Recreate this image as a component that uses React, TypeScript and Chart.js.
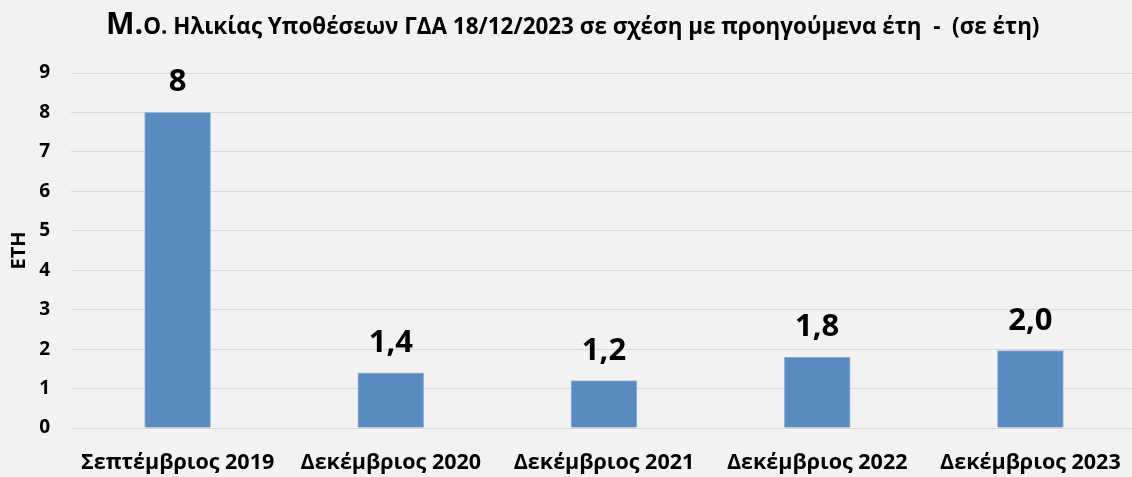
import React, { useEffect, useRef } from "react";
import { Chart, registerables } from "chart.js";

Chart.register(...registerables);

const categories = [
  "Σεπτέμβριος 2019",
  "Δεκέμβριος 2020",
  "Δεκέμβριος 2021",
  "Δεκέμβριος 2022",
  "Δεκέμβριος 2023",
];
const values = [8, 1.4, 1.2, 1.8, 1.96];
const valueLabels = ["8", "1,4", "1,2", "1,8", "2,0"];
const yMin = 0;
const yMax = 9;
const yStep = 1;
const titleLead = "Μ.";
const titleRest = "Ο. Ηλικίας Υποθέσεων ΓΔΑ 18/12/2023 σε σχέση με προηγούμενα έτη  -  (σε έτη)";
const yAxisTitle = "ΕΤΗ";

const FONT = "'Open Sans', 'Noto Sans', sans-serif";

const titlePlugin = {
  id: "mixedTitle",
  afterDraw(chart: any) {
    const ctx = chart.ctx as CanvasRenderingContext2D;
    ctx.save();
    const baseLead = 27;
    const baseRest = 20;
    ctx.font = `bold ${baseLead}px ${FONT}`;
    const wl = ctx.measureText(titleLead).width;
    ctx.font = `bold ${baseRest}px ${FONT}`;
    const wr = ctx.measureText(titleRest).width;
    const target = 934;
    const s = target / (wl + wr);
    const lead = baseLead * s;
    const rest = baseRest * s;
    const startX = chart.width / 2 + 4.5 - target / 2;
    ctx.fillStyle = "#000";
    ctx.textBaseline = "alphabetic";
    ctx.textAlign = "left";
    ctx.font = `bold ${lead}px ${FONT}`;
    ctx.fillText(titleLead, startX, 34);
    ctx.font = `bold ${rest}px ${FONT}`;
    ctx.fillText(titleRest, startX + wl * s, 34);
    ctx.restore();
  },
};

const valueLabelPlugin = {
  id: "valueLabels",
  afterDatasetsDraw(chart: any) {
    const ctx = chart.ctx as CanvasRenderingContext2D;
    const meta = chart.getDatasetMeta(0);
    ctx.save();
    ctx.font = `bold 31px ${FONT}`;
    ctx.fillStyle = "#000";
    ctx.textAlign = "center";
    ctx.textBaseline = "alphabetic";
    meta.data.forEach((bar: any, i: number) => {
      ctx.fillText(valueLabels[i], bar.x, bar.y - 21);
    });
    ctx.restore();
  },
};

export default function App() {
  const ref = useRef<HTMLCanvasElement | null>(null);

  useEffect(() => {
    if (!ref.current) return;
    const chart = new Chart(ref.current, {
      type: "bar",
      data: {
        labels: categories,
        datasets: [
          {
            data: values,
            backgroundColor: "#5a8bc0",
            borderColor: "#9dbadc",
            borderWidth: 1,
            barThickness: 66,
          },
        ],
      },
      options: {
        responsive: false,
        animation: false,
        devicePixelRatio: 1,
        layout: { padding: { top: 73, left: 0, right: 0, bottom: 0 } },
        plugins: {
          legend: { display: false },
          title: { display: false },
          tooltip: { enabled: false },
        },
        scales: {
          x: {
            grid: { display: false },
            border: { display: false },
            ticks: {
              color: "#000",
              font: { family: FONT, size: 21.5, weight: "bold" },
              padding: 14,
              maxRotation: 0,
              autoSkip: false,
            },
            afterFit(scale: any) {
              scale.height = 49;
            },
          },
          y: {
            min: yMin,
            max: yMax,
            grid: { color: "#d9d9d9", lineWidth: 1, drawTicks: false },
            border: { display: false },
            ticks: {
              stepSize: yStep,
              color: "#000",
              font: { family: FONT, size: 19, weight: "bold" },
              padding: 21,
            },
            title: {
              display: true,
              text: yAxisTitle,
              color: "#000",
              font: { family: FONT, size: 20, weight: "bold" },
              padding: { top: 7, bottom: 0 },
            },
            afterFit(scale: any) {
              scale.width = 71;
            },
          },
        },
      },
      plugins: [titlePlugin, valueLabelPlugin],
    });
    return () => chart.destroy();
  }, []);

  return (
    <div
      style={{
        position: "fixed",
        left: 0,
        top: 0,
        width: 1132,
        height: 477,
        overflow: "hidden",
        background: "#f2f2f2",
      }}
    >
      <canvas ref={ref} width={1137} height={477} style={{ display: "block" }} />
    </div>
  );
}
